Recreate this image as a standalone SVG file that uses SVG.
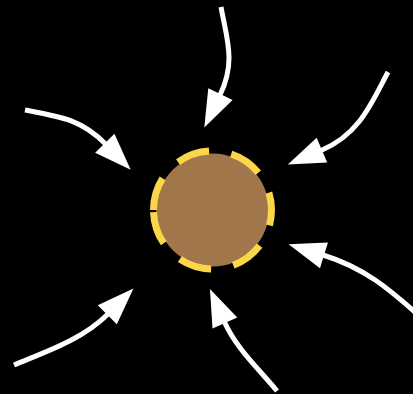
<svg xmlns="http://www.w3.org/2000/svg" width="413" height="394" viewBox="0 0 413 394">
  <style>
    .conn { fill: none; stroke: #ffffff; stroke-width: 5; marker-end: url(#head); }
    .ring { fill: none; stroke: #FBD64A; stroke-width: 7; stroke-dasharray: 33.2 22.6; }
    .body { fill: #A0764A; }
  </style>
  <defs>
    <marker id="head" markerUnits="userSpaceOnUse" markerWidth="40" markerHeight="30" refX="1" refY="13.5" orient="auto" overflow="visible">
      <path d="M0,0 L37,13.5 L0,27 Z" fill="#ffffff"/>
    </marker>
  </defs>
  <rect x="0" y="0" width="413" height="394" fill="#000000"/>
  <g id="node-center">
    <circle class="body" cx="212.5" cy="210" r="56.5"/>
    <path class="ring" d="M153.5,210 A59,59 0 0 1 271.5,210 A59,59 0 0 1 153.5,210"/>
  </g>
  <g id="connectors">
    <path class="conn" d="M221,7 C227,40 236,62 220,95"/>
    <path class="conn" d="M25,110 C62,117 82,120 105.5,144"/>
    <path class="conn" d="M388,72 C372,102 360,134 321,150.5"/>
    <path class="conn" d="M14,365 C45,352 82,340 108,314"/>
    <path class="conn" d="M277,391 C258,368 236,348 224.5,322"/>
    <path class="conn" d="M416,313 C390,290 365,268 323,255"/>
  </g>
</svg>
